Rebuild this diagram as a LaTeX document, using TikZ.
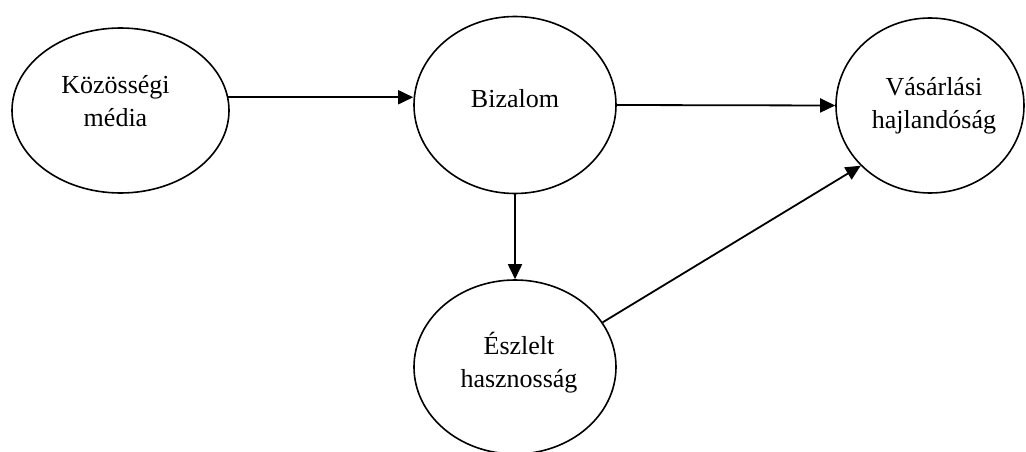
\documentclass[tikz,border=0pt]{standalone}
\usepackage{fontspec}
\setmainfont{Liberation Serif}
\usetikzlibrary{shapes.geometric,arrows.meta}

\tikzset{
  construct/.style={draw, line width=1.6pt, ellipse, inner sep=0pt},
  caption/.style={align=center, inner sep=0pt, font=\fontsize{26}{33}\selectfont},
  path arrow/.style={line width=1.8pt, -{Triangle[length=15pt,width=14pt]}}
}

\begin{document}
\begin{tikzpicture}[x=1pt, y=-1pt]
  \useasboundingbox (0,0) rectangle (1026,452);
  \clip (0,0) rectangle (1026,452);

  % constructs of the model
  \node[construct, minimum width=217pt, minimum height=165pt] (k) at (120.5,110.5) {};
  \node[construct, minimum width=202pt, minimum height=177pt] (b) at (515,105) {};
  \node[construct, minimum width=188pt, minimum height=175pt] (v) at (930,105.5) {};
  \node[construct, minimum width=202pt, minimum height=174pt] (e) at (515,367) {};

  % labels
  \node[caption] (kt) at (115.5,100.8) {Közösségi\\média};
  \node[caption] (bt) at (515,98.3) {Bizalom};
  \node[caption] (vt) at (934,105.5) {Vásárlási\\hajlandóság};
  \node[caption] (et) at (519,362.8) {Észlelt\\hasznosság};

  % hypothesised paths
  \draw[path arrow] (k.7.2) -- (b.west |- k.7.2);
  \draw[path arrow] (b.east) -- (v.west);
  \draw[path arrow] (b.south) -- (e.north);
  \draw[path arrow] (e.27.6) -- (v.221);
\end{tikzpicture}
\end{document}
